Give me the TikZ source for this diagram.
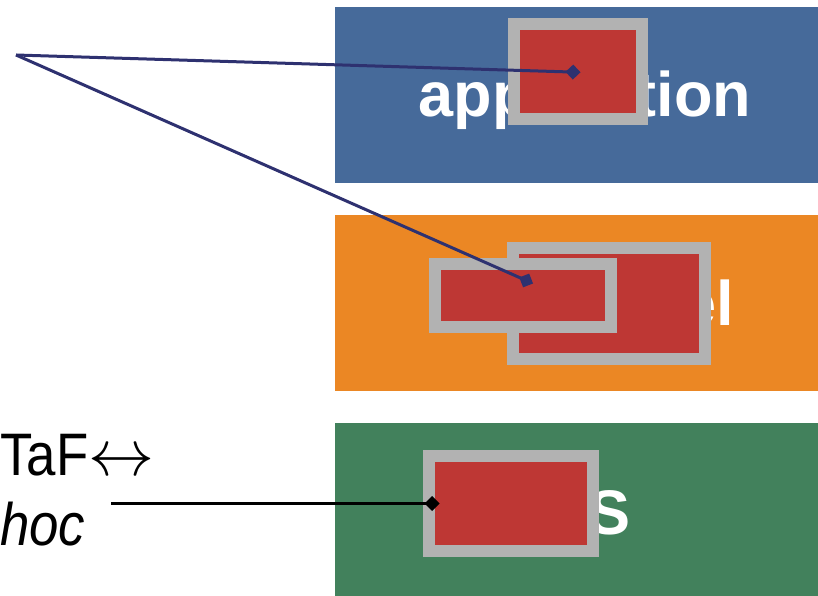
\RequirePackage{fix-cm}
\documentclass[tikz,border=0pt]{standalone}
\usepackage{fontspec}
\setmainfont{Liberation Sans}
\usepackage{tikz}
\usetikzlibrary{arrows.meta}
\definecolor{appblue}{RGB}{70,106,154}
\definecolor{midorange}{RGB}{235,135,36}
\definecolor{osgreen}{RGB}{66,129,92}
\definecolor{boxred}{RGB}{190,55,52}
\definecolor{boxgray}{RGB}{178,178,178}
\definecolor{linknavy}{RGB}{46,49,112}
\newcommand{\bigsf}{\fontsize{60}{70}\selectfont}
\tikzset{
	layer/.style={anchor=north west,inner sep=0pt,outer sep=0pt,minimum width=483pt,minimum height=176pt},
	layertext/.style={anchor=base,text=white,inner sep=0pt,font=\fontsize{63}{70}\selectfont\bfseries},
	redbox/.style={draw=boxgray,fill=boxred,line width=12pt,inner sep=0pt,outer sep=0pt},
	pointer/.style={line width=#1,-{Diamond[length=15pt,width=15pt]}},
	lefttext/.style={anchor=base west,inner sep=0pt,font=\bigsf},
}
\begin{document}
\begin{tikzpicture}[x=1pt,y=-1pt]
\useasboundingbox (0,0) rectangle (818,596);
% the three layers
\node[layer,fill=appblue] (app) at (335,7) {};
\node[layer,fill=midorange] (mid) at (335,215) {};
\node[layer,fill=osgreen,minimum height=173pt] (os) at (335,423) {};
\node[layertext] (applbl) at (585,117) {application};
\node[layertext] (midlbl) at (585,325) {intergiciel};
\node[layertext] (oslbl) at (585,534) {OS};
% red boxes
\node[redbox,minimum width=128pt,minimum height=95pt] (appbox) at (578,71.5) {};
\node[redbox,minimum width=192pt,minimum height=111pt] (midbig) at (609,303.5) {};
\node[redbox,minimum width=176pt,minimum height=63pt] (midsmall) at (523,295.5) {};
\node[redbox,minimum width=164pt,minimum height=95pt] (osbox) at (511,503.5) {};
% left labels
\node[lefttext] (taf) at (0,475) {\scalebox{0.88}[1]{TaF}\fontsize{66}{70}\selectfont$\leftrightarrow$};
\node[lefttext] (hoc) at (0,545) {\scalebox{0.88}[1]{\itshape hoc}};
\coordinate (apex) at (16,55);
\coordinate (append) at (580.5,72.3);
\coordinate (midend) at (533,283.5);
\coordinate (osstart) at (111,503.5);
\coordinate (osend) at (439.5,503.5);
\draw[pointer=3pt,draw=linknavy,fill=linknavy] (apex) -- (append);
\draw[pointer=3pt,draw=linknavy,fill=linknavy] (apex) -- (midend);
\draw[pointer=2.2pt,black] (osstart) -- (osend);
\end{tikzpicture}
\end{document}
